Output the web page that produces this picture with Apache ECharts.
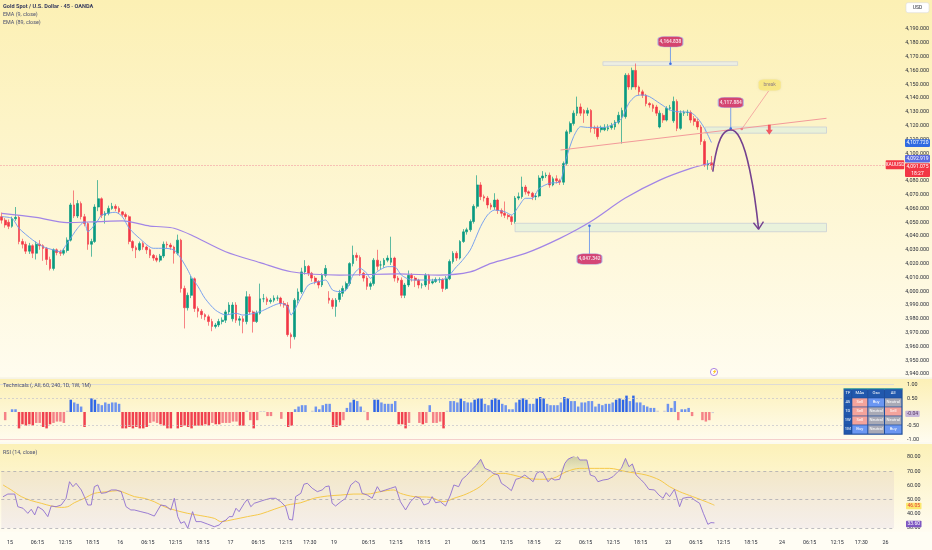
<!DOCTYPE html>
<html><head><meta charset="utf-8">
<script src="https://cdn.jsdelivr.net/npm/echarts@6/dist/echarts.min.js"></script>
<style>html,body{margin:0;padding:0;background:#fffdf3;}#c{width:932px;height:550px;}</style>
</head><body><div id="c"></div>
<script>
// ---------- DATA ----------
const slotCount = 259;
// [open, close, low, high]
const candles = [
[4054,4051.5,4049,4057],[4051.5,4048,4046,4053],[4050,4047,4045,4052],[4047,4052.5,4046,4054],[4052.5,4053.5,4051,4061],
[4053.5,4036,4034,4055],[4036,4034,4031,4038],[4034,4029,4027,4036],[4029,4033,4027,4035],[4033,4027.5,4024,4034],
[4027.5,4034,4023,4036],[4034,4033,4030,4037],[4033,4031,4022,4034],[4031,4023,4019,4032],[4023,4016.5,4015,4025],
[4016.5,4030,4015,4031],[4030,4028,4026,4031],[4028,4027.5,4025.5,4030],[4027.5,4029.5,4026,4031],[4029.5,4037,4028,4039],
[4037,4062.5,4036,4064],[4062.5,4054.5,4053,4073],[4054.5,4063.5,4053,4066],[4063.5,4054,4052,4065],[4054,4049,4047,4056],
[4049,4034,4030,4050],[4034,4036,4025,4038],[4036,4061,4035,4063],[4061,4067,4058,4080.5],[4067,4055,4053,4068],
[4055,4056.5,4049,4058],[4056.5,4060,4055,4062],[4060,4061.5,4059,4064],[4061.5,4060,4058,4063],[4060,4057.5,4056,4061.5],
[4057.5,4055.5,4054,4058],[4055.5,4054,4052,4057],[4054,4036,4034,4055],[4036,4031.5,4029,4037],[4031.5,4030,4024,4033],
[4030,4034.5,4029,4036],[4034.5,4032,4030,4036],[4032,4030,4027,4033],[4030,4026,4024,4031],[4026,4024,4022,4027],
[4024,4022.5,4021,4026],[4022.5,4025.5,4021,4027],[4025.5,4034,4024,4036],[4034,4033.5,4031,4036],[4033.5,4032,4030,4035],
[4032,4027.5,4020,4033],[4027.5,4037,4026,4041],[4037,4002,3999,4038],[4002,3988,3973,4004],[3988,3997,3986,3999],
[3997,4009,3995,4011],[4009,3987.5,3985,4010],[3987.5,3985.5,3981,3989],[3985.5,3983,3980,3987],[3983,3981.5,3979,3984],
[3981.5,3978,3975,3983],[3978,3974.5,3971,3980],[3974.5,3975.5,3973,3977],[3975.5,3978,3974,3980],[3978,3979,3976,3981],
[3979,3985,3977,3986.5],[3985,3990,3983,3992],[3980,3990,3978,3992],[3990,3979,3977,3992],[3979,3980,3975,3982],
[3980,3978,3969.5,3982],[3978,3996,3976,4000],[3996,3985,3983,3998],[3985,3978,3970,3986],[3978,3984,3977,3986],
[3984,3994.5,3983,4005.5],[3994.5,3994.5,3992,3998],[3994.5,3992.5,3990,3996],[3992.5,3993.5,3991,3995],[3993.5,3995,3992,3997],
[3995,3995,3993,3997],[3995,3991,3989,3996],[3991,3990,3988,3993],[3990,3968.5,3967,3992],[3968.5,3967,3958.5,3970],
[3967,3993.5,3965,3995],[3993.5,3999.5,3991,4002],[3999.5,4014,3998,4017],[4014,4018,4012,4022.5],[4018,4013,4011,4019],
[4013,4009.5,4007,4014],[4009.5,4007,4005,4011],[4007,4004.5,4002,4008],[4004.5,4011.5,4003,4013],[4011.5,4016.5,4010,4019],
[3995,3993.5,3991,4000],[3993.5,3989,3987,3995],[3989,3993.5,3981.5,3995],[3994,3998.5,3992,4001],[3998.5,4002,3996,4004],
[4002,4005.5,4000,4007],[4005.5,4020,4004,4021],[4020,4026,4018,4033],[4026,4024.5,4022,4028],[4024.5,4013,4011,4026],
[4013,4009.5,4007,4014],[4009.5,4003.5,4001,4011],[4003.5,4005.5,4001,4007],[4005.5,4022.5,4004,4024],[4022.5,4018,4015,4030],
[4019,4019,4016,4022],[4019,4022.5,4017,4024],[4022.5,4024,4021,4026],[4021,4024,4019,4039.5],[4024,4009.5,4007,4025],
[4009.5,4008,4006,4011],[4008,3997,3995,4010],[3997,4004.5,3995,4006],[4004.5,4011.5,4003,4015],[4011.5,4009.5,4007,4013],
[4009.5,4008,4003,4011],[4008,4004.5,4002,4009],[4004.5,4004.5,4002,4006],[4004.5,4011.5,4003,4013],[4011.5,4005.5,4001,4012.5],
[4006,4007,4005,4009],[4007,4008.5,4006,4010],[4008.5,4008.5,4006,4010],[4008.5,4002,3999.5,4009.5],[4002,4009,4001,4011],
[4009,4021.5,4008,4023],[4021.5,4027.5,4020,4029],[4027.5,4024,4022,4029],[4024,4036,4023,4037],[4036,4043,4035,4045],
[4043,4044.5,4041,4046],[4044.5,4050.5,4043,4052],[4050.5,4061.5,4049,4063],[4061.5,4077,4060,4084],[4077,4068.5,4066,4079],
[4068.5,4067.5,4065,4070],[4067.5,4062.5,4060,4069],[4062.5,4061,4059,4064],[4061,4066,4059,4071],[4066,4058.5,4056,4067],
[4058.5,4056.5,4054,4060],[4056.5,4055,4053,4065],[4055,4054,4052,4056],[4054,4050.5,4048,4055],[4050.5,4067.5,4049,4069],
[4067.5,4068.5,4066,4071.5],[4068.5,4075.5,4067,4083],[4075.5,4072,4070,4077],[4072,4071,4069,4073],[4071,4068.5,4066,4072],
[4068.5,4069,4066,4071],[4069,4082,4068,4084],[4082,4083.5,4080,4087],[4083.5,4084,4082,4086],[4084,4077,4075,4086],
[4077,4081.5,4076,4083],[4081.5,4080,4078,4084],[4080,4079,4077,4081.5],[4079,4092.5,4077,4094],[4092.5,4115.5,4091,4117],
[4115.5,4121.5,4114,4123],[4121.5,4129,4120,4131],[4129,4133.5,4127,4141],[4133.5,4129,4127,4136],[4131,4129,4122,4132],
[4129,4131,4127,4133],[4131,4118,4115,4132],[4118.5,4118,4114,4120],[4118,4112,4110,4120],[4117,4118.5,4115,4120],
[4117,4118.5,4116,4121],[4117.5,4118.5,4116,4121],[4118.5,4120,4117,4122],[4119,4122.5,4117,4124],[4122.5,4127.5,4121,4130],
[4126.5,4131,4107,4133],[4126.5,4156.5,4125,4158],[4156.5,4148,4146,4158],[4148,4160,4146,4162],[4160,4148,4146,4165],
[4148,4144.5,4142,4149],[4144.5,4142,4140,4146],[4142,4136,4134,4143],[4136,4135,4133,4137],[4135,4132.5,4130,4136],
[4133.5,4129,4127,4135],[4119,4129,4118,4131],[4127.5,4124,4122,4129],[4124,4132.5,4123,4134],[4132.5,4133,4131,4135],
[4123.5,4137.5,4122,4141],[4137.5,4118,4116,4139],[4118,4129,4117,4131],[4129,4129.5,4127,4131],[4129.5,4129.5,4127,4131.5],
[4129.5,4124,4122,4131],[4125,4123,4120,4127],[4123,4119,4117,4125],[4119,4108.5,4106,4120.5],[4108.5,4091.5,4090,4110],
[4091.5,4092.5,4088,4095],[4093,4091.075,4088,4098]
];
// EMA lines, read as [bar index, value]
const ema9 = [[0,4054.0],[3,4052.8],[5,4045.6],[9,4037.1],[12,4032.3],[15,4029.9],[17,4028.6],[19,4034.7],[22,4045.6],[24,4050.4],[25,4043.1],[28,4051.6],[29,4055.2],[33,4057.2],[35,4054.0],[37,4045.6],[40,4038.3],[44,4031.1],[47,4031.1],[50,4029.9],[52,4023.8],[54,4015.4],[55,4010.5],[57,4003.3],[59,3994.8],[62,3986.4],[65,3982.8],[68,3984.0],[70,3982.7],[75,3985.2],[81,3991.2],[83,3988.8],[84,3982.7],[85,3986.4],[87,3996.0],[89,4004.5],[92,4006.9],[94,4008.1],[96,4000.9],[98,3999.7],[100,4000.9],[102,4011.7],[104,4016.6],[106,4012.9],[107,4009.3],[109,4014.2],[112,4017.8],[114,4017.8],[116,4011.7],[119,4008.1],[122,4008.1],[126,4008.1],[129,4009.3],[132,4017.8],[133,4020.2],[136,4029.9],[139,4046.8],[141,4055.2],[143,4058.8],[146,4057.6],[148,4055.2],[150,4061.3],[152,4067.3],[154,4067.3],[156,4074.5],[159,4078.2],[162,4079.4],[164,4097.5],[166,4112.0],[168,4119.2],[170,4118.7],[175,4118.7],[178,4121.6],[180,4125.3],[182,4136.1],[184,4141.4],[186,4142.2],[188,4141.0],[191,4136.1],[194,4131.3],[196,4130.1],[200,4129.4],[202,4125.3],[204,4118.0],[206,4107.72]];
const ema89 = [[0,4056.4],[10,4053.5],[19,4049.7],[28,4050.4],[35,4050.9],[43,4047.2],[46,4046.7],[50,4045.6],[55,4040.7],[65,4028.6],[75,4020.7],[84,4014.1],[98,4011.7],[115,4012.5],[127,4011.7],[136,4014],[142,4020.2],[152,4027.4],[162,4038.3],[171,4050.5],[181,4067.5],[191,4080.5],[200,4089],[206,4092.919]];
// Technicals rating per bar (-1..1)
const techRating = [
0,-0.3,0,0.1,0.1,-0.6,-0.45,-0.5,-0.45,-0.5,
-0.4,-0.4,-0.55,-0.6,-0.45,-0.4,-0.35,-0.35,-0.4,0.05,
0.45,0.35,0.3,0.2,-0.55,0,0.5,0.45,0.3,0.25,
0.35,0.3,0.35,0.35,0.3,-0.6,-0.6,-0.55,-0.6,-0.55,
-0.6,-0.6,-0.55,-0.4,-0.35,-0.4,-0.45,-0.5,-0.6,-0.6,
0,-0.6,-0.55,-0.5,-0.55,-0.6,-0.5,-0.5,-0.5,-0.45,
-0.5,-0.4,-0.45,-0.45,-0.4,-0.4,-0.4,-0.35,-0.35,-0.5,
-0.5,0.05,-0.3,-0.6,-0.3,0.03,0.03,-0.15,-0.15,0,
0,-0.25,0,-0.55,-0.5,0.1,0.2,0.25,0.25,0,
0.05,0.2,0.1,0.25,0.3,0.3,-0.55,-0.55,-0.5,-0.3,
0.15,0.35,0.45,0.4,0.2,0.05,-0.3,0,0.45,0.45,
0.35,0.3,0.3,0.3,0.4,-0.45,-0.45,-0.6,-0.4,0,
0,-0.4,-0.45,-0.4,0.25,-0.4,-0.4,-0.35,-0.6,0.05,
0.4,0.4,0.35,0.5,0.4,0.35,0.35,0.45,0.5,0.5,
0.3,0.25,0.45,0.5,0.45,0.3,0.25,0.1,0.1,0.35,
0.45,0.5,0.45,0.3,0.3,0.5,0.55,0.5,0.3,0.25,
0.25,0.25,0.35,0.55,0.5,0.4,0.4,0.2,0.35,0.35,
0.4,0.4,0.2,0.3,0.25,0.3,0.3,0.35,0.45,0.5,
0.45,0.6,0.4,0.6,0.35,0.35,0.25,0.2,0.15,0.15,
0.05,0,0.05,0.3,0.15,0.4,-0.3,0.1,0.1,0.15,
-0.15,0,0,-0.3,-0.35,-0.3,-0.04
];
// RSI(14) and its moving average, read as [bar index, value]
const rsi = [[0,52.0],[1.4,53.9],[3.4,53.9],[4.3,45.0],[5.8,43.9],[7.2,40.3],[8.2,43.2],[9.2,39.2],[10.1,45.0],[11.6,42.7],[13,38.0],[14,45.5],[15.4,45.0],[16.9,46.2],[18.3,50.9],[19.3,62.6],[20.3,59.1],[21.2,61.5],[22.7,56.8],[23.6,52.1],[24.6,46.2],[25.6,46.2],[26.5,59.1],[27.5,60.3],[28.5,54.4],[29.9,54.9],[31.4,56.8],[32.8,56.8],[34.3,55.6],[35.7,45.0],[37.1,42.7],[38.1,42.7],[40,41.5],[42,40.3],[43.9,38.4],[45.8,46.2],[47.3,45.5],[48.7,42.7],[49.7,50.9],[50.7,38.0],[51.6,33.3],[52.6,34.5],[53.6,29.8],[55,41.5],[56,34.5],[57.4,34.5],[59.3,32.8],[61.3,30.9],[62.7,32.1],[63.7,34.5],[64.7,35.6],[65.6,38.0],[66.6,38.0],[67.6,43.9],[68.5,41.5],[70,47.4],[70.9,50.2],[71.9,45.0],[72.9,47.4],[74.3,48.5],[75.8,49.7],[77.7,50.9],[79.1,50.9],[80.6,48.5],[82,45.0],[83,36.1],[84,35.6],[84.4,42.7],[84.9,52.1],[86.4,54.4],[87.3,60.8],[88.3,61.5],[89.7,58.0],[91.2,55.6],[92.6,56.8],[93.6,59.1],[94.6,59.6],[95.5,47.4],[96.5,45.5],[98,48.5],[99.4,50.9],[100.9,60.3],[102.3,63.1],[103.3,61.5],[104.2,54.4],[105.7,53.2],[107.1,50.9],[108.6,59.1],[109.5,55.6],[111,56.8],[112.4,57.9],[113.9,59.1],[115.3,48.5],[116.8,42.7],[118.2,48.5],[119.7,52.1],[121.1,50.9],[122.1,46.2],[123.5,47.4],[124.5,52.1],[125.5,47.8],[126.9,48.5],[128.4,45.5],[129.8,53.2],[130.8,60.3],[132.2,59.1],[133.2,64.3],[134.5,67.0],[135.9,70.8],[137.4,74.4],[138.6,78.4],[139.8,72.0],[141.3,70.4],[142.2,68.5],[143.7,67.3],[144.6,61.5],[146.1,59.1],[147.5,56.3],[148.8,64.3],[149.9,65.0],[151.4,67.3],[152.6,65.0],[153.8,62.6],[154.8,68.5],[155.7,69.7],[156.7,69.0],[158.1,62.6],[159.1,65.0],[160.1,63.8],[161.5,64.3],[163,75.5],[163.9,78.4],[165.4,80.2],[166.4,81.4],[167.3,77.9],[168.5,77.9],[169.4,77.9],[170.4,67.3],[171.7,66.2],[172.6,62.6],[174.1,63.8],[175.5,64.3],[177,66.2],[178.4,69.7],[179.4,72.0],[180.6,79.0],[181.6,73.2],[182.6,75.1],[183.7,67.3],[185.2,63.8],[186.1,61.5],[187.4,57.2],[189,56.8],[190.3,53.2],[191.5,50.9],[192.4,54.9],[193.4,52.1],[194.8,57.2],[196.3,45.0],[197.2,50.9],[198.7,51.6],[199.7,51.6],[200.6,49.7],[202.1,47.4],[203.2,40.3],[204.5,32.6],[205.4,33.8],[206.4,33.6]];
const rsiMa = [[0,60.3],[2.4,56.8],[5.3,52.1],[8.2,49.3],[11.1,47.4],[14,45.5],[16.9,44.5],[18.8,45.0],[20.7,47.8],[23.6,50.9],[26.5,54.4],[30.4,55.6],[33.3,56.3],[35.2,54.9],[38.1,52.1],[41,50.9],[43.9,48.5],[46.8,45.0],[49.7,42.7],[53.6,40.3],[57.4,38.7],[61.3,36.8],[63.2,34.5],[67.1,36.1],[70.9,38.0],[74.8,39.9],[78.7,43.2],[82.5,46.2],[86.4,47.8],[90.2,50.9],[94.1,52.5],[98,53.2],[101.8,53.9],[105.7,53.9],[109.5,55.6],[113.4,56.8],[115.3,54.4],[119.2,52.1],[124,51.6],[127.9,48.5],[130.8,50.9],[134.4,53.9],[138.4,59.1],[142.2,67.3],[145.1,68.5],[148,67.3],[151.9,65.0],[155.7,64.3],[159.6,65.0],[163.5,69.7],[167.3,72.0],[173.1,72.0],[176,72.0],[180.8,69.7],[186.6,67.3],[190.5,63.8],[193.4,59.1],[196.3,55.6],[200.1,52.1],[204,48.5],[206.4,46.05]];
// time-axis tick labels: [bar index, text]
const timeTicks = [[2,'15'],[10,'06:15'],[18,'12:15'],[26,'18:15'],[34,'16'],[42,'06:15'],[50,'12:15'],[58,'18:15'],[66,'17'],[74,'06:15'],[82,'12:15'],[89,'17:30'],[96,'19'],[106,'06:15'],[114,'12:15'],[122,'18:15'],[129,'21'],[138,'06:15'],[146,'12:15'],[154,'18:15'],[161,'22'],[169,'06:15'],[177,'12:15'],[185,'18:15'],[193,'23'],[201,'06:15'],[209,'12:15'],[217,'18:15'],[226,'24'],[234,'06:15'],[242,'12:15'],[249,'17:30'],[256,'26']];
// last-value tags
const lastClose = 4091.075;
const barCountdown = '18:27';
const techLast = -0.04;
// table
const tableHeader = ['TF','MAs','Osc','All'];
const tableRows = [['45','Sell','Buy','Neutral'],['1D','Sell','Neutral','Sell'],['1W','Sell','Neutral','Neutral'],['1M','Buy','Neutral','Buy']];
// drawn annotations in (bar index, price)
const resistanceZone = [[174.5,4166.3],[213.6,4163.6]];
const retestZone = [[204.2,4119.0],[239.4,4114.5]];
const supportZone = [[149,4049.2],[239.4,4043.1]];
const trendLine = [[162.2,4102.3],[239.4,4125.3]];
const projectionPath = [[206.4,4086.6],[207.1,4097.5],[208.1,4107.2],[209.2,4113.2],[210.5,4116.3],[211.6,4116.8],[212.9,4115.6],[214.3,4110.8],[215.8,4101.1],[217.3,4085.4],[218.5,4068.5],[219.7,4044.9]];
const projectionHead = [[218.2,4049.6],[219.7,4044.9],[221.1,4050.4]];
const priceCallouts = [
  {text:'4,164.838', at:[194.1,4180.8], from:4177.2, to:4164.838},
  {text:'4,117.884', at:[211.6,4136.7], from:4133.2, to:4117.884},
  {text:'4,047.342', at:[170.6,4023.3], from:4026.9, to:4047.342}
];
const breakNote = {text:'break', at:[222.9,4149.4], from:[222.6,4145.1], to:[214.8,4117.5]};
const downArrowAt = [222.8,4117];

// ---------- CHART ----------
const chart = echarts.init(document.getElementById('c'));
const fmt = (v,d) => v.toLocaleString('en-US',{minimumFractionDigits:d,maximumFractionDigits:d});
const cats = Array.from({length:slotCount},(_,i)=>String(i));
const tickMap = {}; timeTicks.forEach(([i,t])=>tickMap[i]=t);
const FONT = 'Roboto, "Noto Sans", sans-serif';
const lab = {fontSize:5.4,color:'#2a2e39',fontFamily:FONT};

function techColor(v){
  const a = Math.abs(v);
  if (a < 0.08) return '#cfcfd6';
  if (v > 0) return a >= 0.45 ? '#2f66e6' : '#6d93ee';
  return a >= 0.45 ? '#f0414f' : '#f58187';
}
const grad = (c1,c2) => new echarts.graphic.LinearGradient(0,0,0,1,[{offset:0,color:c1},{offset:1,color:c2}]);

const callSeries = [];
priceCallouts.forEach(c=>{
  callSeries.push({type:'line',xAxisIndex:1,yAxisIndex:0,silent:true,z:6,
    data:[{value:[c.at[0],c.from],symbolSize:0},{value:[c.at[0],c.to],symbolSize:2.6}],
    symbol:'circle',lineStyle:{color:'#5b8def',width:0.8},itemStyle:{color:'#3d6fe0'}});
});
callSeries.push({type:'scatter',xAxisIndex:1,yAxisIndex:0,silent:true,z:8,
  data:priceCallouts.map(c=>({value:c.at,name:c.text})),
  symbol:'roundRect',symbolSize:[25,10.5],
  itemStyle:{color:'#c9195c',borderColor:'#a9b4ec',borderWidth:0.8},
  label:{show:true,position:'inside',formatter:p=>p.name,color:'#fff',fontSize:4.8,fontWeight:'bold',fontFamily:FONT}});
callSeries.push({type:'line',xAxisIndex:1,yAxisIndex:0,silent:true,z:6,
  data:[{value:breakNote.from,symbolSize:0},{value:breakNote.to,symbolSize:2.6}],
  symbol:'circle',lineStyle:{color:'#f29a9a',width:0.8},itemStyle:{color:'#f07f86'}});
callSeries.push({type:'scatter',xAxisIndex:1,yAxisIndex:0,silent:true,z:8,
  data:[{value:breakNote.at,name:breakNote.text}],symbol:'roundRect',symbolSize:[22,11],
  itemStyle:{color:'#fcea7a',shadowColor:'rgba(0,0,0,0.12)',shadowBlur:2},
  label:{show:true,position:'inside',formatter:p=>p.name,color:'#7b6a86',fontSize:5,fontFamily:FONT}});
callSeries.push({type:'scatter',xAxisIndex:1,yAxisIndex:0,silent:true,z:8,
  data:[downArrowAt],symbol:'path://M3,0 L7,0 L7,6 L10,6 L5,12 L0,6 L3,6 Z',symbolSize:[7,10],
  itemStyle:{color:'#f23645'}});

const zoneStyle = {color:'rgba(226,240,222,0.75)',borderColor:'#c9cfd6',borderWidth:0.8};
const option = {
  animation:false,
  grid:[
    {left:0,right:38,top:1.4,height:372.6},
    {left:0,right:38,top:384.7,height:54.6},
    {left:0,right:38,top:457,height:71}
  ],
  xAxis:[
    {type:'category',gridIndex:0,data:cats,boundaryGap:true,show:false},
    {type:'value',gridIndex:0,min:-0.5,max:slotCount-0.5,show:false},
    {type:'category',gridIndex:1,data:cats,boundaryGap:true,show:false},
    {type:'category',gridIndex:2,data:cats,boundaryGap:true,axisLine:{show:false},axisTick:{show:false},splitLine:{show:false},
      axisLabel:{interval:0,margin:12,fontSize:5.3,color:'#2a2e39',fontFamily:FONT,formatter:(v,i)=>tickMap[i]||''}},
    {type:'value',gridIndex:2,min:-0.5,max:slotCount-0.5,show:false}
  ],
  yAxis:[
    {type:'value',gridIndex:0,position:'right',min:3940,max:4210,interval:10,splitLine:{show:false},axisLine:{show:false},axisTick:{show:false},
      axisLabel:Object.assign({},lab,{margin:13,align:'left',formatter:v=>v>=4200?'':fmt(v,3)})},
    {type:'value',gridIndex:1,position:'right',min:-1,max:1,interval:0.5,splitLine:{show:false},axisLine:{show:false},axisTick:{show:false},
      axisLabel:Object.assign({},lab,{margin:13,align:'left',formatter:v=>Math.abs(v)<1e-9?'':fmt(v,2)})},
    {type:'value',gridIndex:2,position:'right',min:30,max:80,interval:10,splitLine:{show:false},axisLine:{show:false},axisTick:{show:false},
      axisLabel:Object.assign({},lab,{margin:13,align:'left',formatter:v=>fmt(v,2)})}
  ],
  series:[
    {type:'line',xAxisIndex:1,yAxisIndex:0,data:[],silent:true,z:1,
      markArea:{silent:true,itemStyle:zoneStyle,data:[
        [{coord:supportZone[0]},{coord:supportZone[1]}],
        [{coord:retestZone[0]},{coord:retestZone[1]}],
        [{coord:resistanceZone[0],itemStyle:{color:'rgba(232,236,236,0.8)',borderColor:'#cfd3d8'}},{coord:resistanceZone[1]}]
      ]}},
    {type:'candlestick',xAxisIndex:0,yAxisIndex:0,data:candles,barWidth:'64%',z:3,
      itemStyle:{color:'#089981',color0:'#f23645',borderColor:'rgba(8,153,129,0.65)',borderColor0:'rgba(242,54,69,0.6)',borderWidth:1},
      markLine:{silent:true,symbol:'none',label:{show:false},lineStyle:{color:'#f4a9a9',width:0.7,type:[2,1]},data:[{yAxis:lastClose}]}},
    {type:'line',xAxisIndex:1,yAxisIndex:0,data:ema89,symbol:'none',smooth:0.3,z:4,lineStyle:{color:'#a285e6',width:1.2}},
    {type:'line',xAxisIndex:1,yAxisIndex:0,data:ema9,symbol:'none',smooth:0.25,z:4,lineStyle:{color:'#6b98f0',width:0.9}},
    {type:'line',xAxisIndex:1,yAxisIndex:0,data:trendLine,symbol:'none',z:5,lineStyle:{color:'#f39a9a',width:1}},
    {type:'line',xAxisIndex:1,yAxisIndex:0,data:projectionPath,symbol:'none',smooth:0.45,z:7,lineStyle:{color:'#74418f',width:1.6}},
    {type:'line',xAxisIndex:1,yAxisIndex:0,data:projectionHead,symbol:'none',z:7,lineStyle:{color:'#74418f',width:1.4}},
    ...callSeries,
    {type:'bar',xAxisIndex:2,yAxisIndex:1,barWidth:'72%',z:3,
      data:techRating.map(v=>({value:v,itemStyle:{color:techColor(v)}})),
      markLine:{silent:true,symbol:'none',label:{show:false},data:[
        {yAxis:1,lineStyle:{color:'#d6d6dc',width:0.8,type:'solid'}},
        {yAxis:0.5,lineStyle:{color:'#c3c3cb',width:0.7,type:[2,2]}},
        {yAxis:-0.5,lineStyle:{color:'#c3c3cb',width:0.7,type:[2,2]}},
        {yAxis:-1,lineStyle:{color:'#f2c4c4',width:0.8,type:'solid'}}
      ]}},
    {type:'line',xAxisIndex:4,yAxisIndex:2,data:rsi.map(([i,v])=>[i,Math.max(v,70)]),symbol:'none',z:2,silent:true,
      lineStyle:{width:0,opacity:0},
      areaStyle:{origin:70,color:new echarts.graphic.LinearGradient(0,0,0,1,[{offset:0,color:'rgba(120,135,110,0.55)'},{offset:1,color:'rgba(175,185,150,0.25)'}])}},
    {type:'line',xAxisIndex:4,yAxisIndex:2,data:rsiMa,symbol:'none',smooth:0.3,z:3,lineStyle:{color:'#f6c94a',width:1}},
    {type:'line',xAxisIndex:4,yAxisIndex:2,data:rsi,symbol:'none',z:4,lineStyle:{color:'#8f6fd0',width:0.9},
      markArea:{silent:true,itemStyle:{color:'rgba(126,87,194,0.08)'},data:[[{yAxis:30},{yAxis:70}]]},
      markLine:{silent:true,symbol:'none',label:{show:false},lineStyle:{color:'#a3a3ad',width:0.7,type:[3,3]},data:[{yAxis:70},{yAxis:50},{yAxis:30}]}}
  ],
  graphic:[]
};

const G = [];
// pane backgrounds
G.push({type:'rect',z:-10,silent:true,shape:{x:0,y:0,width:932,height:378},style:{fill:grad('#fcf0b4','#fffcef')}});
G.push({type:'rect',z:-10,silent:true,shape:{x:0,y:379,width:932,height:63},style:{fill:grad('#fcf0b6','#fffcf0')}});
G.push({type:'rect',z:-10,silent:true,shape:{x:0,y:444,width:932,height:88},style:{fill:grad('#fcf1b8','#fffcf2')}});
G.push({type:'rect',z:-10,silent:true,shape:{x:0,y:532,width:932,height:18},style:{fill:'#fffdf4'}});
G.push({type:'rect',z:-9,silent:true,shape:{x:0,y:377.6,width:932,height:1.2},style:{fill:'#f3efe2'}});
G.push({type:'rect',z:-9,silent:true,shape:{x:0,y:442.2,width:932,height:1.6},style:{fill:'#fbf8ee'}});
// titles
const T = (x,y,text,opt) => G.push(Object.assign({type:'text',z:60,silent:true,x,y,style:Object.assign({text,fill:'#4b5070',fontSize:5.4,fontFamily:FONT,verticalAlign:'middle'},opt||{})}));
T(3,7,'Gold Spot / U.S. Dollar · 45 · OANDA',{fill:'#363b5e',fontWeight:'bold',fontSize:5.6});
T(3,15,'EMA (9, close)');
T(3,23,'EMA (89, close)');
T(3,385.7,'Technicals (, All, 60, 240, 1D, 1W, 1M)');
T(3,453,'RSI (14, close)');
// USD box
G.push({type:'rect',z:60,silent:true,shape:{x:906,y:2.7,width:23,height:10,r:2},style:{fill:'#ffffff',stroke:'#dcdcdc',lineWidth:0.6}});
T(917.5,7.7,'USD',{fill:'#2a2e39',fontSize:5,align:'center'});
// value tags
function tag(x,y,w,h,fill,lines,color){
  G.push({type:'rect',z:60,silent:true,shape:{x,y,width:w,height:h,r:0.8},style:{fill}});
  lines.forEach((t,k)=>T(x+w/2,y+(k+0.5)*h/lines.length,t,{fill:color,fontSize:5,align:'center'}));
}
tag(905,139.3,25,7.6,'#2f6ae2',[fmt(ema9[ema9.length-1][1],3)],'#fff');
tag(905,155,25,7.4,'#5a6ae0',[fmt(ema89[ema89.length-1][1],3)],'#fff');
tag(885.7,160.3,18.5,9,'#f23645',['XAUUSD'],'#fff');
tag(905,163.3,25,13.6,'#f23645',[fmt(lastClose,3),barCountdown],'#fff');
tag(905.3,410.7,14.4,6.2,'#c9b8d8',[fmt(techLast,2)],'#5b3a66');
tag(906,502.7,15.5,6.6,'#fbe86e',[fmt(rsiMa[rsiMa.length-1][1],2)],'#e53935');
tag(906,520.7,15.5,6.6,'#7e57c2',[fmt(rsi[rsi.length-1][1],2)],'#fff');
// event marker
G.push({type:'circle',z:60,silent:true,shape:{cx:714,cy:372,r:3.6},style:{fill:'#fff',stroke:'#9c6ade',lineWidth:0.8}});
T(714,372.2,'⚡',{fill:'#8e44ad',fontSize:4.2,align:'center'});
// technicals table
const colX=[844.3,852.3,868.3,885], colW=[7.6,15.6,16.3,17], rowY0=389.3, rowH=9;
const cellFill={Sell:'#f4a39b',Buy:'#6b97f2',Neutral:'#a9aab6'};
G.push({type:'rect',z:58,silent:true,shape:{x:843.6,y:388.6,width:59,height:46.2},style:{fill:'#1e4d9c'}});
G.push({type:'rect',z:59,silent:true,shape:{x:843.6,y:388.6,width:59,height:0.8},style:{fill:'#2bb39a'}});
[tableHeader,...tableRows].forEach((row,r)=>{
  row.forEach((t,c)=>{
    const x=colX[c], y=rowY0+r*rowH, w=colW[c]-0.6, h=rowH-0.7;
    const fill = (r===0||c===0)?'#2158ad':cellFill[t];
    G.push({type:'rect',z:59,silent:true,shape:{x,y,width:w,height:h},style:{fill}});
    T(x+w/2,y+h/2,t,{fill:'#ffffff',fontSize:4.2,align:'center'});
  });
});
option.graphic = G;
chart.setOption(option);
</script>
</body></html>
